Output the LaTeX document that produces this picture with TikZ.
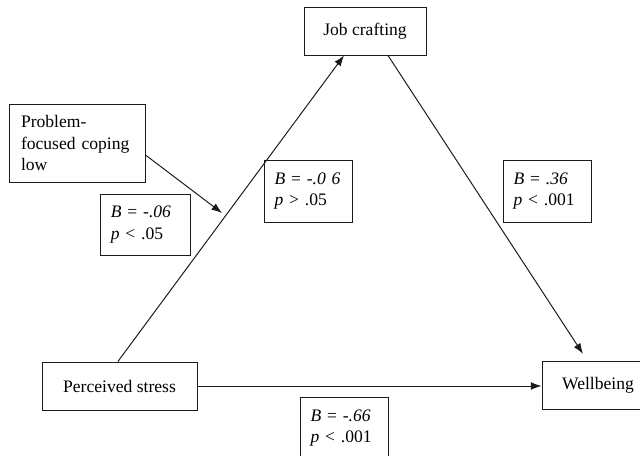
\documentclass[tikz,border=0pt]{standalone}
\usepackage{fontspec}
\setmainfont{Liberation Serif}
\usepackage{tikz}
\usetikzlibrary{arrows.meta}
\definecolor{inkline}{HTML}{1A1A1A}
\tikzset{every node/.append style={font=\fontsize{12.5}{15}\selectfont}}
\tikzset{
  varbox/.style={draw=inkline,line width=0.7pt,inner sep=0pt,align=center,
    minimum height=1.2cm},
  statbox/.style={draw=inkline,line width=0.7pt,inner xsep=0.24cm,inner ysep=0pt,
    align=left,text width=1.7cm,minimum height=1.55cm},
  link/.style={draw=inkline,line width=0.7pt,-{Latex[length=7.5pt,width=5.5pt]}}
}

\begin{document}
\begin{tikzpicture}
  \useasboundingbox (0,0) rectangle (16,-11.375);
  % variables
  \node[varbox,minimum width=3.05cm] (job) at (9.125,-0.775) {Job crafting};
  \node[varbox,minimum width=3.875cm] (stress) at (2.9875,-9.65) {Perceived stress};
  \node[varbox,minimum width=2.8cm] (well) at (14.95,-9.635) {Wellbeing};
  \node[draw=inkline,line width=0.7pt,inner xsep=0.3cm,inner ysep=0pt,align=left,
    text width=2.8cm,minimum height=1.95cm] (prob) at (1.925,-3.575)
    {Problem-\\focused coping\\low};
  % coefficients
  \node[statbox,inner xsep=0.27cm,text width=1.71cm,minimum height=1.525cm] (bmod)
    at (3.625,-5.6125) {\textit{B} = -\textit{.06}\\\textit{p} < .05};
  \node[statbox] (ba) at (7.7125,-4.775) {\textit{B} = -\textit{.0 6}\\\textit{p} > .05};
  \node[statbox] (bb) at (13.6875,-4.775) {\textit{B} = \textit{.36}\\\textit{p} < .001};
  \node[statbox] (bc) at (8.6125,-10.7) {\textit{B} = -\textit{.66}\\\textit{p} < .001};
  % paths
  \coordinate (mod) at (5.55,-5.325);
  \draw[link] ([xshift=-0.04cm]stress.north) -- ([xshift=-0.525cm]job.south);
  \draw[link] ([xshift=0.575cm]job.south) -- ([xshift=-0.375cm,yshift=0.175cm]well.north);
  \draw[link] (stress.east) -- (stress.east -| well.west);
  \draw[link] ([yshift=-0.3cm]prob.east) -- (mod);
\end{tikzpicture}
\end{document}
